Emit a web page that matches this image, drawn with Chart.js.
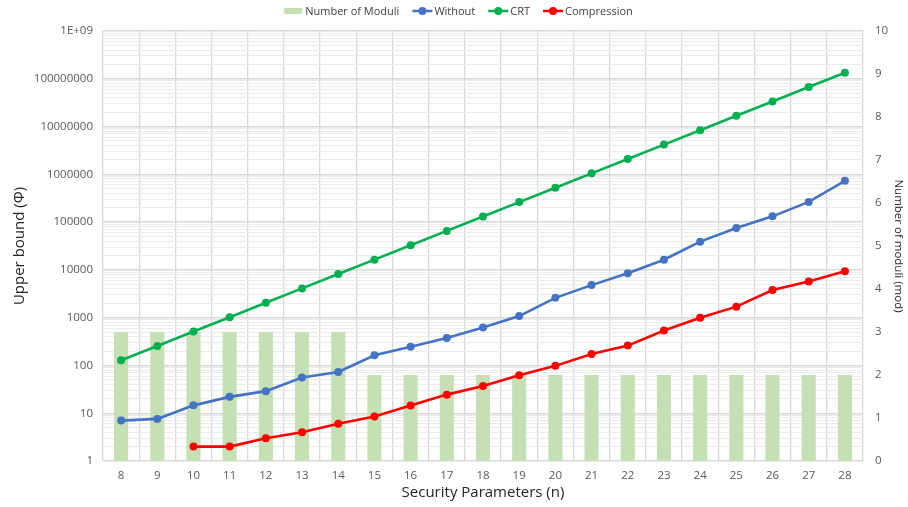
<!DOCTYPE html>
<html>
<head>
<meta charset="utf-8">
<script src="https://cdn.jsdelivr.net/npm/chart.js@4"></script>
<style>
  html, body { margin: 0; padding: 0; background: #ffffff; }
  #wrap { width: 908px; height: 507px; position: relative; }
</style>
</head>
<body>
<div id="wrap"><canvas id="chart"></canvas></div>
<script>
// Security parameter n on the x axis
const categories = ['8','9','10','11','12','13','14','15','16','17','18','19','20','21','22','23','24','25','26','27','28'];

// Number of moduli (right axis)
const moduliCount = [3,3,3,3,3,3,3,2,2,2,2,2,2,2,2,2,2,2,2,2,2];

// Upper bound (left, logarithmic axis)
const withoutBound = [7,7.6,14.6,22,29,56,73,163,247,375,620,1080,2600,4800,8500,16300,39000,75000,132000,265000,730000];
const crtBound = [128,256,512,1024,2048,4096,8192,16384,32768,65536,131072,262144,524288,1048576,2097152,4194304,8388608,16777216,33554432,67108864,134217728];
const compressionBound = [null,null,2,2,3,4,6,8.5,14.5,24.5,37,62,98,174,260,540,1000,1700,3800,5700,9400];

// Labels shown on the decade ticks of the left axis
const leftTickLabels = ['1','10','100','1000','10000','100000','1000000','10000000','100000000','1E+09'];
const rightTickValues = [0,1,2,3,4,5,6,7,8,9,10];

const FONT = '"Open Sans", Lato, sans-serif';
const isDecade = v => Math.abs(Math.log10(v) - Math.round(Math.log10(v))) < 1e-9;

// Legend drawn as a single centred row above the plot
const topLegend = {
  id: 'topLegend',
  afterDraw(chart) {
    const ctx = chart.ctx;
    ctx.save();
    ctx.font = '11px ' + FONT;
    ctx.textBaseline = 'middle';
    const y = 11;
    const markW = 20, gapText = 2, gapItem = 13;
    const items = chart.data.datasets.map(ds => ({
      label: ds.label, type: ds.type, color: ds.type === 'bar' ? ds.backgroundColor : ds.borderColor,
      w: markW + gapText + ctx.measureText(ds.label).width
    }));
    let total = items.reduce((s, it) => s + it.w, 0) + gapItem * (items.length - 1);
    let x = chart.width / 2 + 4 - total / 2;
    items.forEach(it => {
      if (it.type === 'bar') {
        ctx.fillStyle = it.color;
        ctx.fillRect(x + 1, y - 3, 18, 6);
      } else {
        ctx.strokeStyle = it.color;
        ctx.lineWidth = 2.5;
        ctx.beginPath();
        ctx.moveTo(x, y);
        ctx.lineTo(x + markW, y);
        ctx.stroke();
        ctx.fillStyle = it.color;
        ctx.beginPath();
        ctx.arc(x + markW / 2, y, 4, 0, Math.PI * 2);
        ctx.fill();
      }
      ctx.fillStyle = '#404040';
      ctx.textAlign = 'left';
      ctx.fillText(it.label, x + markW + gapText, y + 0.5);
      x += it.w + gapItem;
    });
    ctx.restore();
  }
};

const lineStyle = color => ({
  type: 'line',
  borderColor: color,
  backgroundColor: color,
  borderWidth: 2.6,
  pointRadius: 4,
  pointHoverRadius: 4,
  pointBackgroundColor: color,
  pointBorderColor: color,
  pointBorderWidth: 0,
  tension: 0,
  spanGaps: false,
  yAxisID: 'y',
  order: 1
});

new Chart(document.getElementById('chart'), {
  data: {
    labels: categories,
    datasets: [
      {
        type: 'bar',
        label: 'Number of Moduli',
        data: moduliCount,
        backgroundColor: '#c5e0b4',
        borderWidth: 0,
        barPercentage: 0.39,
        categoryPercentage: 1,
        yAxisID: 'y1',
        order: 2
      },
      Object.assign({ label: 'Without', data: withoutBound }, lineStyle('#4472c4')),
      Object.assign({ label: 'CRT', data: crtBound }, lineStyle('#00b050')),
      Object.assign({ label: 'Compression', data: compressionBound }, lineStyle('#ff0000'))
    ]
  },
  options: {
    responsive: true,
    maintainAspectRatio: false,
    animation: false,
    events: [],
    layout: { padding: { top: 31, left: 7, right: 2, bottom: 2 } },
    plugins: {
      legend: { display: false },
      tooltip: { enabled: false }
    },
    scales: {
      x: {
        type: 'category',
        offset: true,
        grid: { display: true, offset: true, color: '#d9d9d9', lineWidth: 1.3, drawTicks: false },
        border: { display: false },
        ticks: { color: '#595959', font: { family: FONT, size: 11.5 }, padding: 8, maxRotation: 0, autoSkip: false },
        title: { display: true, text: 'Security Parameters (n)', color: '#262626', font: { family: FONT, size: 15 }, padding: { top: 0, bottom: 3 } },
        afterFit(scale) { scale.height = 44; }
      },
      y: {
        type: 'logarithmic',
        position: 'left',
        min: 1,
        max: 1e9,
        grid: {
          drawTicks: false,
          color: ctx => (ctx.tick && isDecade(ctx.tick.value)) ? '#d9d9d9' : '#ececec',
          lineWidth: ctx => (ctx.tick && isDecade(ctx.tick.value)) ? 1.4 : 1
        },
        border: { display: false },
        afterBuildTicks(scale) {
          const ticks = [];
          for (let e = 0; e < leftTickLabels.length - 1; e++) {
            for (let m = 1; m <= 9; m++) ticks.push({ value: m * Math.pow(10, e), major: m === 1 });
          }
          ticks.push({ value: Math.pow(10, leftTickLabels.length - 1), major: true });
          scale.ticks = ticks;
        },
        ticks: {
          autoSkip: false,
          color: '#595959',
          font: { family: FONT, size: 11.5 },
          padding: 10,
          callback: v => isDecade(v) ? leftTickLabels[Math.round(Math.log10(v))] : ''
        },
        title: { display: true, text: 'Upper bound (Φ)', color: '#262626', font: { family: FONT, size: 15 }, padding: { top: 4, bottom: 0 } },
        afterFit(scale) { scale.width = 96; }
      },
      y1: {
        type: 'linear',
        position: 'right',
        min: 0,
        max: 10,
        grid: { display: false, drawTicks: false },
        border: { display: false },
        afterBuildTicks(scale) { scale.ticks = rightTickValues.map(v => ({ value: v })); },
        ticks: { color: '#595959', font: { family: FONT, size: 11.5 }, padding: 12 },
        title: { display: true, text: 'Number of moduli (mod)', color: '#262626', font: { family: FONT, size: 11.5 }, padding: { top: 1, bottom: 0 } },
        afterFit(scale) { scale.width = 43; }
      }
    }
  },
  plugins: [topLegend]
});
</script>
</body>
</html>
